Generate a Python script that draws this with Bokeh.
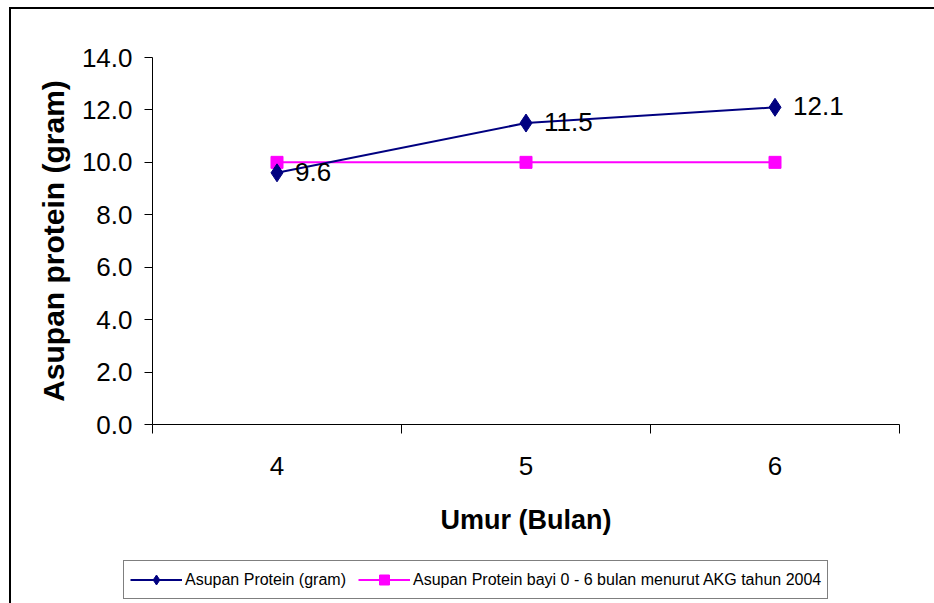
from bokeh.plotting import figure
from bokeh.layouts import column
from bokeh.models import (FixedTicker, PrintfTickFormatter, Legend, LegendItem,
                          ColumnDataSource, Range1d)
from bokeh.core.properties import value
from bokeh.embed import file_html
from bokeh.resources import INLINE

# ---- data ----
months = [4, 5, 6]
month_labels = ["4", "5", "6"]
asupan_protein = [9.6, 11.5, 12.1]
akg_2004 = [10.0, 10.0, 10.0]
y_ticks = [0, 2, 4, 6, 8, 10, 12, 14]
series_names = ["Asupan Protein (gram)",
                "Asupan Protein bayi 0 - 6 bulan menurut AKG tahun 2004"]
x_title = "Umur (Bulan)"
y_title = "Asupan protein (gram)"

SANS = "Liberation Sans"
OX, OY = 11, 9          # canvas offset inside the bordered container
W = 934 - OX
H_LEG = 50
H_MAIN = 603 - OY - H_LEG

p = figure(width=W, height=H_MAIN, output_backend="svg", toolbar_location=None,
           x_range=Range1d(3.5, 6.5), y_range=Range1d(0, 14),
           min_border_left=152 - OX, min_border_right=W - (899 - OX),
           min_border_top=57 - OY, min_border_bottom=H_MAIN - (424 - OY))
p.outline_line_color = None
p.grid.visible = False
p.background_fill_color = "white"
p.border_fill_color = "white"

# x axis
xa = p.xaxis[0]
xa.ticker = FixedTicker(ticks=months, minor_ticks=[3.5, 4.5, 5.5, 6.5])
xa.major_label_overrides = {m: l for m, l in zip(months, month_labels)}
xa.major_tick_out = 0
xa.major_tick_in = 0
xa.minor_tick_out = 9
xa.minor_tick_in = 0
xa.minor_tick_line_color = "black"
xa.axis_line_color = "black"
xa.major_label_text_font = SANS
xa.major_label_text_font_size = "26px"
xa.major_label_text_color = "black"
xa.major_label_standoff = 23
xa.axis_label = x_title
xa.axis_label_text_font = SANS
xa.axis_label_text_font_style = "bold"
xa.axis_label_text_font_size = "27px"
xa.axis_label_text_color = "black"
xa.axis_label_standoff = 27

# y axis
ya = p.yaxis[0]
ya.ticker = FixedTicker(ticks=y_ticks, minor_ticks=[])
ya.formatter = PrintfTickFormatter(format="%.1f")
ya.major_tick_out = 8
ya.major_tick_in = 0
ya.major_tick_line_color = "black"
ya.axis_line_color = "black"
ya.major_label_text_font = SANS
ya.major_label_text_font_size = "26px"
ya.major_label_text_color = "black"
ya.major_label_standoff = 12
ya.axis_label = y_title
ya.axis_label_text_font = SANS
ya.axis_label_text_font_style = "bold"
ya.axis_label_text_font_size = "30px"
ya.axis_label_text_color = "black"
ya.axis_label_standoff = 9

src = ColumnDataSource(dict(x=months, a=asupan_protein, b=akg_2004,
                            lab=["%.1f" % v for v in asupan_protein]))

def add_series(fig):
    lb = fig.line("x", "b", source=src, line_color="#FF00FF", line_width=2)
    sb = fig.scatter("x", "b", source=src, marker="square", size=12,
                     fill_color="#FF00FF", line_color="#FF00FF")
    la = fig.line("x", "a", source=src, line_color="#000080", line_width=2)
    sa = fig.scatter("x", "a", source=src, marker="diamond", size=18,
                     fill_color="#000080", line_color="#000080")
    return la, sa, lb, sb

add_series(p)
p.text("x", "a", text="lab", source=src, x_offset=18, y_offset=-1,
       text_baseline="middle", text_align="left",
       text_font=value(SANS), text_font_size="26px", text_color="black")

# legend strip (separate figure; its series lie outside its ranges)
q = figure(width=W, height=H_LEG, output_backend="svg", toolbar_location=None,
           x_range=Range1d(100, 101), y_range=Range1d(100, 101),
           x_axis_location=None, y_axis_location=None,
           min_border=0, min_border_left=0, min_border_right=0,
           min_border_top=0, min_border_bottom=0)
q.outline_line_color = None
q.grid.visible = False
q.background_fill_color = "white"
q.border_fill_color = "white"
for fig in (p, q):
    try:
        fig.frame_align = False
    except Exception:
        pass
la, sa, lb, sb = add_series(q)

legend = Legend(items=[LegendItem(label=series_names[0], renderers=[la, sa]),
                       LegendItem(label=series_names[1], renderers=[lb, sb])],
                orientation="horizontal", location=(123 - OX, 4))
legend.label_text_font = SANS
legend.label_text_font_size = "16px"
legend.label_text_color = "black"
legend.glyph_width = 52
legend.glyph_height = 25
legend.label_height = 25
legend.label_standoff = 3
legend.spacing = 12
legend.padding = 6
legend.margin = 0
legend.border_line_color = "black"
legend.border_line_width = 1
legend.background_fill_alpha = 1
q.add_layout(legend, "center")

layout = column(p, q, spacing=0,
                styles={"margin-left": "9px", "margin-top": "7px",
                        "border-left": "2px solid #000",
                        "border-top": "2px solid #000"})

open("out.html", "w").write(file_html(layout, INLINE))
